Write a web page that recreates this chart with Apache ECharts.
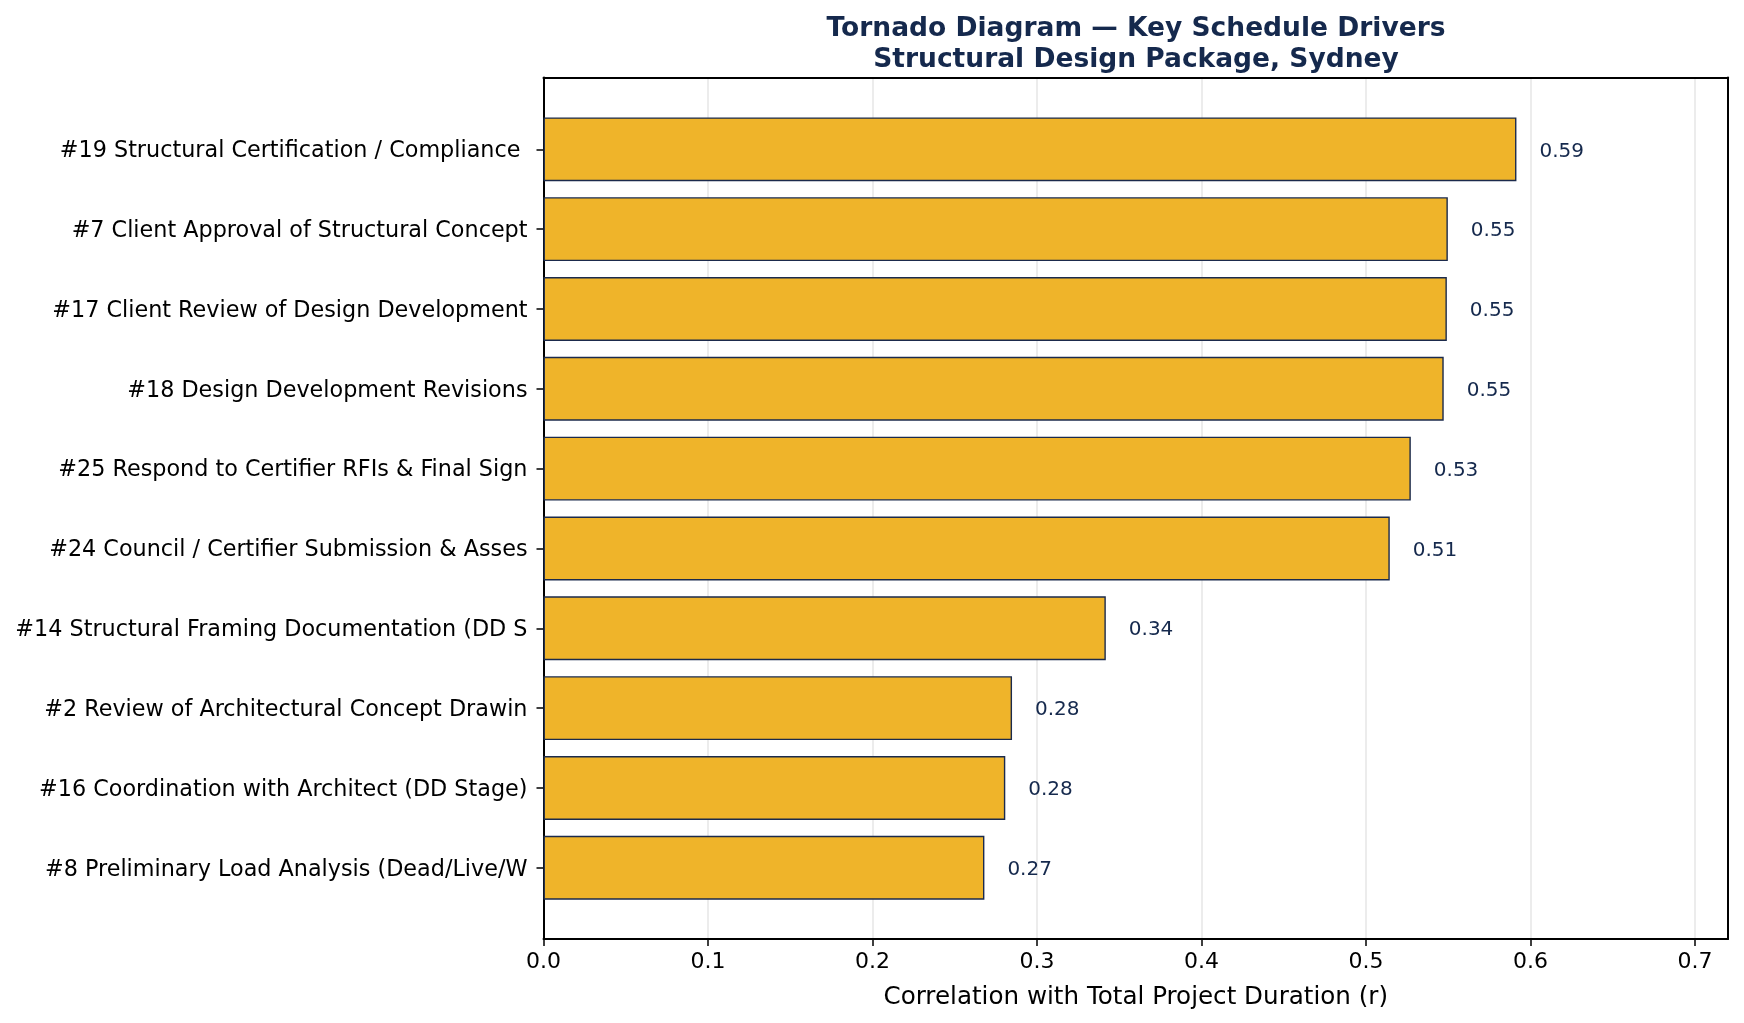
<!DOCTYPE html>
<html>
<head>
<meta charset="utf-8">
<script src="https://cdn.jsdelivr.net/npm/echarts@6/dist/echarts.min.js"></script>
<style>
html,body{margin:0;padding:0;background:#fff;}
#chart{width:1744px;height:1023px;}
</style>
</head>
<body>
<div id="chart"></div>
<script>
const categories = [
  "#19 Structural Certification / Compliance ",
  "#7 Client Approval of Structural Concept",
  "#17 Client Review of Design Development",
  "#18 Design Development Revisions",
  "#25 Respond to Certifier RFIs & Final Sign",
  "#24 Council / Certifier Submission & Asses",
  "#14 Structural Framing Documentation (DD S",
  "#2 Review of Architectural Concept Drawin",
  "#16 Coordination with Architect (DD Stage)",
  "#8 Preliminary Load Analysis (Dead/Live/W"
];
const correlations = [0.5914, 0.5497, 0.5491, 0.5472, 0.5272, 0.5144, 0.3418, 0.2848, 0.2807, 0.2680];
const xTicks = [0.0, 0.1, 0.2, 0.3, 0.4, 0.5, 0.6, 0.7];
const titleText = "Tornado Diagram \u2014 Key Schedule Drivers\nStructural Design Package, Sydney";
const xAxisName = "Correlation with Total Project Duration (r)";

const FONT = "DejaVu Sans";
const NAVY = "#15294d";
const chart = echarts.init(document.getElementById('chart'), null, {renderer: 'canvas'});

const frameLine = {show: true, onZero: false, lineStyle: {color: '#000', width: 2}};

const option = {
  backgroundColor: '#ffffff',
  animation: false,
  textStyle: {fontFamily: FONT},
  title: {
    text: titleText,
    left: 1131,
    textAlign: 'center',
    top: 9,
    textStyle: {fontFamily: FONT, fontSize: 26.5, fontWeight: 'bold', color: NAVY, lineHeight: 31}
  },
  grid: [
    {left: 543.5, right: 16, top: 77.5, bottom: 84, show: false},
    {left: 543.5, right: 16, top: 109.4, bottom: 115.3}
  ],
  xAxis: [
    {
      gridIndex: 0, type: 'value', min: 0, max: 0.72, interval: 0.1, position: 'bottom',
      axisLine: frameLine,
      axisTick: {show: true, length: 7, lineStyle: {color: '#000', width: 1.5}},
      axisLabel: {
        fontSize: 22, color: '#000', fontFamily: FONT, margin: 12,
        showMaxLabel: false,
        formatter: function (v) {
          for (const t of xTicks) { if (Math.abs(t - v) < 1e-9) return t.toFixed(1); }
          return '';
        }
      },
      splitLine: {show: true, lineStyle: {color: '#e6e6e6', width: 1.5}},
      name: xAxisName, nameLocation: 'middle', nameGap: 46,
      nameTextStyle: {fontSize: 24.6, color: '#000', fontFamily: FONT}
    },
    {
      gridIndex: 0, type: 'value', min: 0, max: 0.72, position: 'top',
      axisLine: frameLine,
      axisTick: {show: false}, axisLabel: {show: false}, splitLine: {show: false}
    },
    {
      gridIndex: 1, type: 'value', min: 0, max: 0.72, show: false
    }
  ],
  yAxis: [
    {gridIndex: 0, type: 'value', min: 0, max: 1, position: 'left',
      axisLine: frameLine,
      axisTick: {show: false}, axisLabel: {show: false}, splitLine: {show: false}},
    {gridIndex: 0, type: 'value', min: 0, max: 1, position: 'right',
      axisLine: frameLine,
      axisTick: {show: false}, axisLabel: {show: false}, splitLine: {show: false}},
    {
      gridIndex: 1, type: 'category', inverse: true, data: categories,
      axisLine: {show: false},
      axisTick: {show: true, alignWithLabel: true, length: 7, lineStyle: {color: '#000', width: 1.5}},
      axisLabel: {
        fontSize: 22.3, color: '#000', fontFamily: FONT, margin: 16,
        formatter: function (v) { return '{t|' + v + '}'; },
        rich: {t: {fontSize: 22.3, color: '#000', fontFamily: FONT, padding: [4, 0, 0, 0]}}
      },
      splitLine: {show: false}
    }
  ],
  series: [
    {
      type: 'bar',
      xAxisIndex: 2, yAxisIndex: 2,
      data: correlations,
      barCategoryGap: '20%',
      itemStyle: {color: '#efb42a', borderColor: '#1b2a4c', borderWidth: 1.4},
      label: {
        show: true, position: 'right', distance: 23, offset: [0, 2],
        fontSize: 20, color: NAVY, fontFamily: FONT,
        formatter: function (p) { return p.value.toFixed(2); }
      }
    }
  ]
};
chart.setOption(option);
</script>
</body>
</html>
